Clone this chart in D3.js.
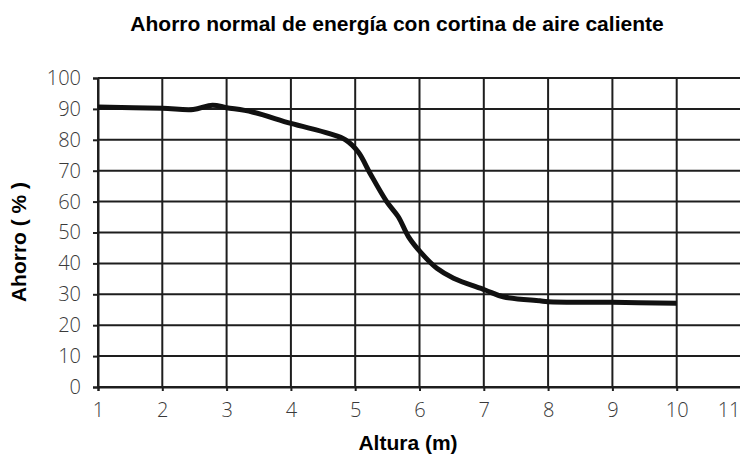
<!DOCTYPE html>
<html><head><meta charset="utf-8">
<script src="https://cdn.jsdelivr.net/npm/d3@7"></script>
<style>body{margin:0;background:#fff}</style>
</head><body>
<svg id="c" width="740" height="456"></svg>
<script>
const title = "Ahorro normal de energía con cortina de aire caliente";
const xLabel = "Altura (m)";
const yLabel = "Ahorro ( % )";
const xTicks = [1,2,3,4,5,6,7,8,9,10,11];
const yTicks = [0,10,20,30,40,50,60,70,80,90,100];
const altura = [1, 2, 2.48, 2.78, 3, 3.4, 4, 4.6, 4.85, 5.05, 5.23, 5.49, 5.67, 5.83, 6.03, 6.27, 6.53, 7.02, 7.3, 7.87, 8, 9, 10];
const ahorro = [90.6, 90.2, 89.8, 91.2, 90.4, 89, 85.3, 82, 80, 76, 69.2, 60, 55.1, 48.6, 43.3, 38.4, 35.2, 31.4, 29.2, 27.9, 27.6, 27.4, 27.1];

const svg = d3.select("#c");
const x = d3.scaleLinear().domain([1, 11]).range([98, 741]);
const y = d3.scaleLinear().domain([0, 100]).range([387, 78]);
const gridColor = "#1e1e1e";

// grid
svg.append("g").selectAll("line").data(yTicks).join("line")
  .attr("x1", x(1)).attr("x2", 740)
  .attr("y1", d => y(d)).attr("y2", d => y(d))
  .attr("stroke", gridColor).attr("stroke-width", 2);
svg.append("g").selectAll("line").data(xTicks).join("line")
  .attr("x1", d => x(d)).attr("x2", d => x(d))
  .attr("y1", y(100)).attr("y2", y(0))
  .attr("stroke", gridColor).attr("stroke-width", 2);

// axes
const yAxis = d3.axisLeft(y).tickValues(yTicks).tickSize(5).tickPadding(12);
const gy = svg.append("g").attr("transform", `translate(${x(1)},0)`).call(yAxis);
const xAxis = d3.axisBottom(x).tickValues(xTicks).tickSize(4).tickPadding(12);
const gx = svg.append("g").attr("transform", `translate(0,${y(0)})`).call(xAxis);
[gy, gx].forEach(g => {
  g.select(".domain").attr("stroke", gridColor).attr("stroke-width", 2);
  g.selectAll(".tick line").attr("stroke", gridColor).attr("stroke-width", 2);
  g.selectAll(".tick text").attr("fill", "#3a3a3a")
    .style("font-family", "'Open Sans', sans-serif").style("font-weight", 300).style("font-size", "20px");
});
// keep the last x label inside the picture
gx.selectAll(".tick text").filter(d => d === 11).attr("text-anchor", "end").attr("dx", "-1");

// line
const line = d3.line().x(d => x(d[0])).y(d => y(d[1])).curve(d3.curveCatmullRom);
svg.append("path").datum(altura.map((a, i) => [a, ahorro[i]]))
  .attr("d", line).attr("fill", "none").attr("stroke", "#111")
  .attr("stroke-width", 5).attr("stroke-linejoin", "round").attr("stroke-linecap", "butt");

// titles
const bold = s => s.style("font-family", "'Liberation Sans', Arial, sans-serif").style("font-weight", "bold").style("font-size", "21px");
svg.append("text").attr("x", 397).attr("y", 31).attr("text-anchor", "middle").call(bold).text(title);
svg.append("text").attr("x", 408).attr("y", 450).attr("text-anchor", "middle").call(bold).text(xLabel);
svg.append("text").attr("transform", "translate(26,242) rotate(-90)").attr("text-anchor", "middle").call(bold).text(yLabel);
</script>
</body></html>
